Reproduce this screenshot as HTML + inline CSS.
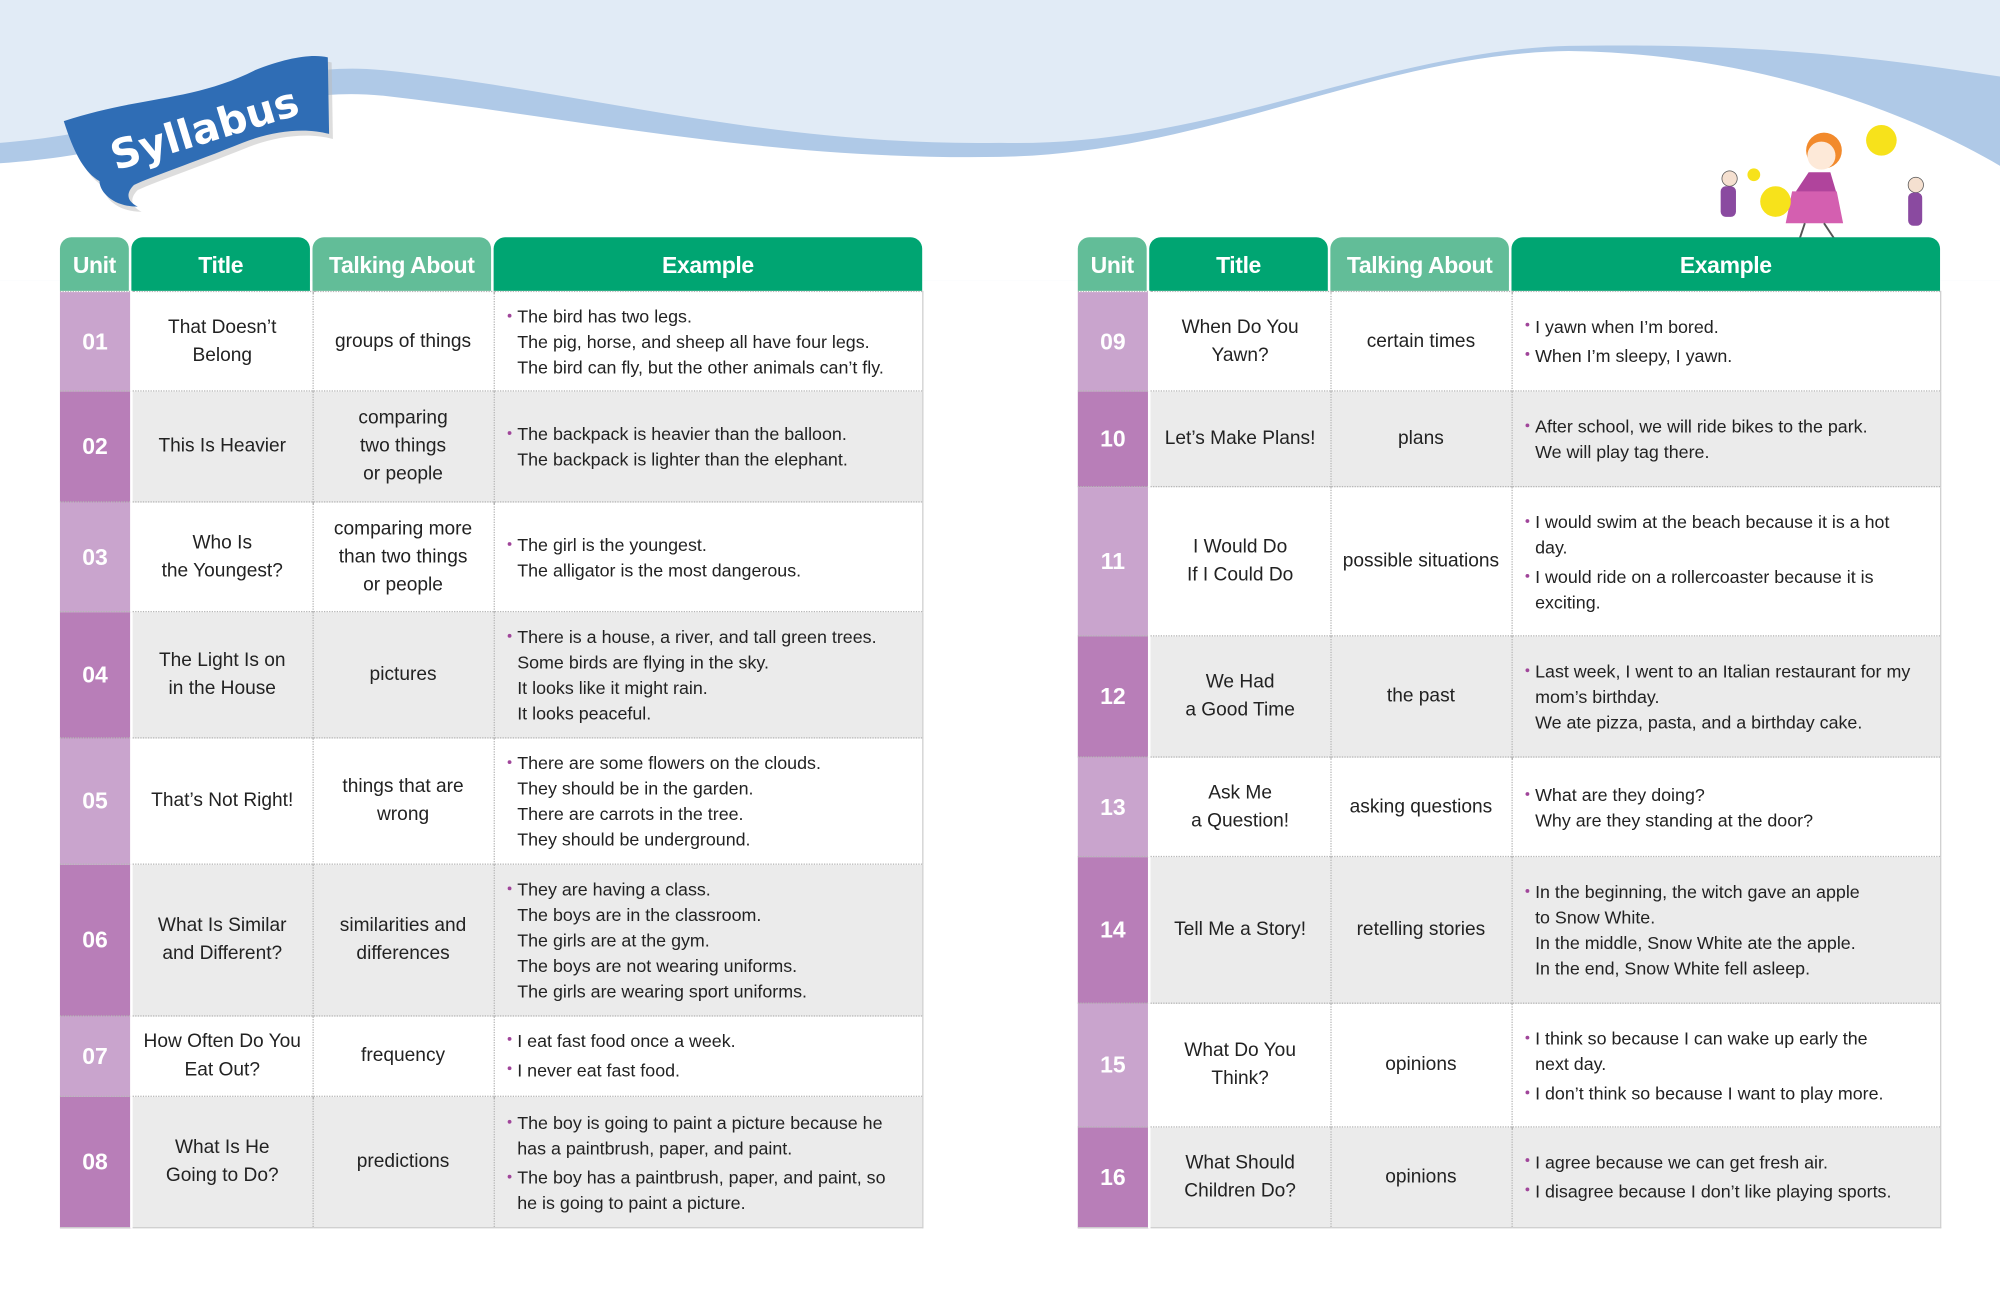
<!DOCTYPE html>
<html><head><meta charset="utf-8"><style>
html,body{margin:0;padding:0;background:#fff;}
body{width:2000px;height:1309px;overflow:hidden;position:relative;}
#w{position:absolute;left:0;top:0;width:1568px;height:1026px;transform:scale(1.27551);transform-origin:0 0;font-family:"Liberation Sans",sans-serif;color:#222;}
table{position:absolute;top:186px;border-collapse:collapse;table-layout:fixed;width:676px;}
td{padding:0;vertical-align:middle;text-align:center;font-size:15px;line-height:22px;}
tr.h td{height:42px;padding:0 2px 0 0;}
tr.h td div{height:42px;border-radius:9px 9px 0 0;color:#fff;font-weight:bold;font-size:18px;line-height:44px;white-space:nowrap;letter-spacing:-0.3px;}
.l{background:#62bd98}.d{background:#00a572}
td.u{color:#fff;font-weight:bold;font-size:18px;border-right:2px solid #fff;}
tr.b td{border-top:1px dotted #b5b5b5;}
tr.b td.t,tr.b td.a,tr.b td.e{border-left:1px dotted #b5b5b5;}
tr.b td.e{border-right:1px solid #cfcfcf;text-align:left;padding-left:18px;font-size:14px;line-height:20px;}
tr.b:last-child td{border-bottom:1px solid #cfcfcf;}
tr.g td{background:#ebebeb}
tr.b td.u{background:#c9a4cd}
tr.g td.u{background:#b87eb8}
.e p{margin:0;position:relative;}
.e p.bl:before{content:"";position:absolute;left:-8px;top:8px;width:3px;height:3px;border-radius:50%;background:#a0459a;}
</style></head><body><div id="w">
<svg width="1568" height="220" style="position:absolute;left:0;top:0">
<rect width="1568" height="220" fill="#e1ebf6"/>
<path d="M0,112 C150,100 200,45 300,55 C450,70 600,115 784,112 C950,116 1080,40 1230,36 C1400,33 1500,50 1568,60 L1568,220 L0,220Z" fill="#afc9e7"/>
<path d="M0,128 C150,118 200,65 300,75 C450,92 600,126 784,123 C950,120 1080,42 1230,40 C1380,42 1500,90 1568,130 L1568,220 L0,220Z" fill="#fff"/>
<g>
<path d="M50,95 C110,75 150,80 200,55 C225,45 245,42 257,45 L258,105 C240,100 215,102 190,112 C150,128 120,138 105,145 C98,152 100,158 108,162 C88,162 78,150 78,142 C66,135 58,120 50,95Z" fill="#bbb" opacity=".5" transform="translate(3,4)"/>
<path d="M50,95 C110,75 150,80 200,55 C225,45 245,42 257,45 L258,105 C240,100 215,102 190,112 C150,128 120,138 105,145 C98,152 100,158 108,162 C88,162 78,150 78,142 C66,135 58,120 50,95Z" fill="#2f6db5"/>
<text x="160" y="112" text-anchor="middle" transform="rotate(-17 160 100)" font-family="DejaVu Sans,sans-serif" font-weight="bold" font-size="32" fill="#fff">Syllabus</text>
</g>
<g>
<circle cx="1430" cy="118" r="14" fill="#f28a2c"/><circle cx="1428" cy="122" r="11" fill="#fde9d8"/>
<path d="M1418,135 L1408,150 L1440,152 L1435,135Z" fill="#b0449c"/>
<path d="M1405,150 L1400,175 L1445,175 L1440,150Z" fill="#d45fb0"/>
<circle cx="1475" cy="110" r="12" fill="#f7e21b"/><circle cx="1392" cy="158" r="12" fill="#f7e21b"/>
<circle cx="1356" cy="140" r="6" fill="#f5e0d0" stroke="#555" stroke-width=".6"/><rect x="1349" y="146" width="12" height="24" rx="4" fill="#8a4aa0"/><circle cx="1375" cy="137" r="5" fill="#f7e21b"/>
<circle cx="1502" cy="145" r="6" fill="#f5e0d0" stroke="#555" stroke-width=".6"/><rect x="1496" y="151" width="11" height="26" rx="4" fill="#8a4aa0"/>
<path d="M1415,175 L1410,190 M1430,175 L1440,190" stroke="#555" stroke-width="1.5"/>
</g>
</svg>

<table style="left:47px">
<colgroup><col style="width:56px"><col style="width:142px"><col style="width:142px"><col style="width:336px"></colgroup>
<tr class="h"><td><div class="l">Unit</div></td><td><div class="d">Title</div></td><td><div class="l">Talking About</div></td><td style="padding:0"><div class="d">Example</div></td></tr>
<tr class="b" style="height:78px"><td class="u">01</td><td class="t">That Doesn’t<br>Belong</td><td class="a">groups of things</td><td class="e"><p class="bl">The bird has two legs.</p><p>The pig, horse, and sheep all have four legs.</p><p>The bird can fly, but the other animals can’t fly.</p></td></tr>
<tr class="b g" style="height:87px"><td class="u">02</td><td class="t">This Is Heavier</td><td class="a">comparing<br>two things<br>or people</td><td class="e"><p class="bl">The backpack is heavier than the balloon.</p><p>The backpack is lighter than the elephant.</p></td></tr>
<tr class="b" style="height:86px"><td class="u">03</td><td class="t">Who Is<br>the Youngest?</td><td class="a">comparing more<br>than two things<br>or people</td><td class="e"><p class="bl">The girl is the youngest.</p><p>The alligator is the most dangerous.</p></td></tr>
<tr class="b g" style="height:99px"><td class="u">04</td><td class="t">The Light Is on<br>in the House</td><td class="a">pictures</td><td class="e"><p class="bl">There is a house, a river, and tall green trees.</p><p>Some birds are flying in the sky.</p><p>It looks like it might rain.</p><p>It looks peaceful.</p></td></tr>
<tr class="b" style="height:99px"><td class="u">05</td><td class="t">That’s Not Right!</td><td class="a">things that are<br>wrong</td><td class="e"><p class="bl">There are some flowers on the clouds.</p><p>They should be in the garden.</p><p>There are carrots in the tree.</p><p>They should be underground.</p></td></tr>
<tr class="b g" style="height:119px"><td class="u">06</td><td class="t">What Is Similar<br>and Different?</td><td class="a">similarities and<br>differences</td><td class="e"><p class="bl">They are having a class.</p><p>The boys are in the classroom.</p><p>The girls are at the gym.</p><p>The boys are not wearing uniforms.</p><p>The girls are wearing sport uniforms.</p></td></tr>
<tr class="b" style="height:63px"><td class="u">07</td><td class="t">How Often Do You<br>Eat Out?</td><td class="a">frequency</td><td class="e" style="line-height:23px"><p class="bl">I eat fast food once a week.</p><p class="bl">I never eat fast food.</p></td></tr>
<tr class="b g" style="height:103px"><td class="u">08</td><td class="t">What Is He<br>Going to Do?</td><td class="a">predictions</td><td class="e"><p class="bl">The boy is going to paint a picture because he<br>has a paintbrush, paper, and paint.</p><p class="bl" style="margin-top:3px">The boy has a paintbrush, paper, and paint, so<br>he is going to paint a picture.</p></td></tr>
</table>

<table style="left:845px">
<colgroup><col style="width:56px"><col style="width:142px"><col style="width:142px"><col style="width:336px"></colgroup>
<tr class="h"><td><div class="l">Unit</div></td><td><div class="d">Title</div></td><td><div class="l">Talking About</div></td><td style="padding:0"><div class="d">Example</div></td></tr>
<tr class="b" style="height:78px"><td class="u">09</td><td class="t">When Do You<br>Yawn?</td><td class="a">certain times</td><td class="e" style="line-height:23px"><p class="bl">I yawn when I’m bored.</p><p class="bl">When I’m sleepy, I yawn.</p></td></tr>
<tr class="b g" style="height:75px"><td class="u">10</td><td class="t">Let’s Make Plans!</td><td class="a">plans</td><td class="e"><p class="bl">After school, we will ride bikes to the park.</p><p>We will play tag there.</p></td></tr>
<tr class="b" style="height:117px"><td class="u">11</td><td class="t">I Would Do<br>If I Could Do</td><td class="a">possible situations</td><td class="e"><p class="bl">I would swim at the beach because it is a hot<br>day.</p><p class="bl" style="margin-top:3px">I would ride on a rollercoaster because it is<br>exciting.</p></td></tr>
<tr class="b g" style="height:95px"><td class="u">12</td><td class="t">We Had<br>a Good Time</td><td class="a">the past</td><td class="e"><p class="bl" style="white-space:nowrap">Last week, I went to an Italian restaurant for my<br>mom’s birthday.</p><p>We ate pizza, pasta, and a birthday cake.</p></td></tr>
<tr class="b" style="height:78px"><td class="u">13</td><td class="t">Ask Me<br>a Question!</td><td class="a">asking questions</td><td class="e"><p class="bl">What are they doing?</p><p>Why are they standing at the door?</p></td></tr>
<tr class="b g" style="height:115px"><td class="u">14</td><td class="t">Tell Me a Story!</td><td class="a">retelling stories</td><td class="e"><p class="bl">In the beginning, the witch gave an apple<br>to Snow White.</p><p>In the middle, Snow White ate the apple.</p><p>In the end, Snow White fell asleep.</p></td></tr>
<tr class="b" style="height:97px"><td class="u">15</td><td class="t">What Do You<br>Think?</td><td class="a">opinions</td><td class="e"><p class="bl">I think so because I can wake up early the<br>next day.</p><p class="bl" style="margin-top:3px">I don’t think so because I want to play more.</p></td></tr>
<tr class="b g" style="height:79px"><td class="u">16</td><td class="t">What Should<br>Children Do?</td><td class="a">opinions</td><td class="e" style="line-height:23px"><p class="bl">I agree because we can get fresh air.</p><p class="bl">I disagree because I don’t like playing sports.</p></td></tr>
</table>
</div></body></html>
